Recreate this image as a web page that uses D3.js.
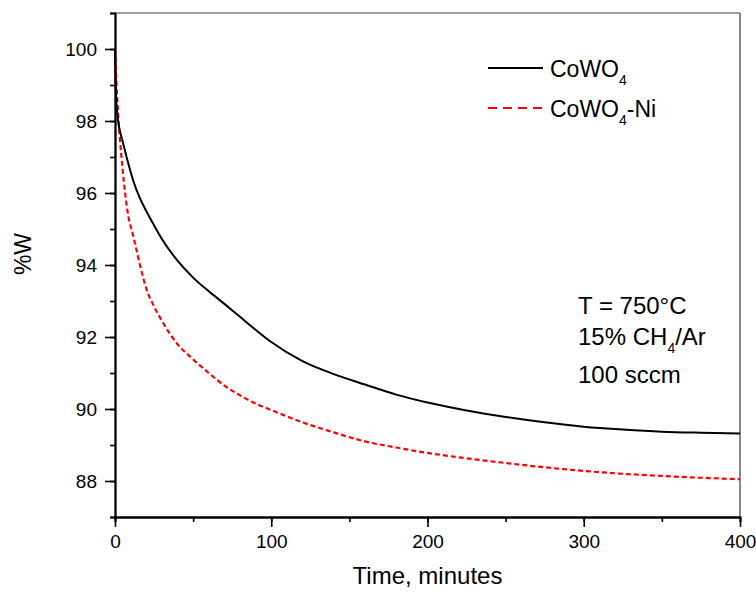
<!DOCTYPE html>
<html>
<head>
<meta charset="utf-8">
<script src="https://cdn.jsdelivr.net/npm/d3@7"></script>
<style>
    body { margin: 0; background: #fff; }
    text { font-family: Arial, "Liberation Sans", sans-serif; fill: #000; }
</style>
</head>
<body>
<div class="svg"></div>
<script>
// time, minutes
var times = [0, 0.5, 1, 2, 3, 5, 8, 12, 16, 20, 25, 30, 40, 50, 60, 70, 80, 90, 100,
    120, 140, 160, 180, 200, 225, 250, 275, 300, 325, 350, 375, 400];
var cowo4 = [100, 98.9, 98.45, 98.0, 97.75, 97.42, 96.9, 96.3, 95.85, 95.5, 95.1, 94.72, 94.12, 93.65, 93.27, 92.92, 92.56, 92.2, 91.86,
    91.33, 90.97, 90.68, 90.4, 90.18, 89.96, 89.78, 89.63, 89.51, 89.43, 89.37, 89.34, 89.32];
var cowo4Ni = [100, 99.5, 99.0, 98.2, 97.6, 96.6, 95.5, 94.75, 94.0, 93.35, 92.85, 92.45, 91.8, 91.38, 91.0, 90.65, 90.38, 90.15, 89.97,
    89.63, 89.35, 89.1, 88.93, 88.78, 88.63, 88.5, 88.38, 88.28, 88.2, 88.14, 88.09, 88.05];
var xTicks = [0, 100, 200, 300, 400];
var yTicks = [88, 90, 92, 94, 96, 98, 100];

var width = 756,
    height = 592;
var margin = {left: 115, right: 16, top: 13, bottom: 75};

var svg = d3.select(".svg").append("svg")
    .attr("width", width)
    .attr("height", height);

var x = d3.scaleLinear().domain([0, 400]).range([margin.left, width - margin.right]);
var y = d3.scaleLinear().domain([87, 101]).range([height - margin.bottom, margin.top]);

// frame (top and right in grey)
svg.append("line")
    .attr("x1", x(0)).attr("x2", x(400)).attr("y1", y(101)).attr("y2", y(101))
    .attr("stroke", "#808080").attr("stroke-width", 1.5);
svg.append("line")
    .attr("x1", x(400)).attr("x2", x(400)).attr("y1", y(101)).attr("y2", y(87))
    .attr("stroke", "#606060").attr("stroke-width", 1.5);

// minor ticks
var xMinor = d3.axisBottom(x).tickValues(d3.range(0, 401, 50)).tickSize(5).tickFormat("");
var yMinor = d3.axisLeft(y).tickValues(d3.range(87, 101.5, 1)).tickSize(5).tickFormat("");

var xAxis = d3.axisBottom(x).tickValues(xTicks).tickSize(10).tickPadding(8).tickSizeOuter(0);
var yAxis = d3.axisLeft(y).tickValues(yTicks).tickSize(10).tickPadding(8).tickSizeOuter(0);

[xMinor, xAxis].forEach(function (a) {
    svg.append("g")
        .attr("transform", "translate(0," + y(87) + ")")
        .call(a);
});
[yMinor, yAxis].forEach(function (a) {
    svg.append("g")
        .attr("transform", "translate(" + x(0) + ",0)")
        .call(a);
});

svg.selectAll(".domain").attr("stroke", "#000").attr("stroke-width", 1.8);
svg.selectAll(".tick line").attr("stroke", "#000").attr("stroke-width", 1.6);
svg.selectAll(".tick text")
    .style("font-family", "Arial, 'Liberation Sans', sans-serif")
    .style("font-size", "19px")
    .attr("fill", "#000");

// curves
var line = function (vals) {
    return d3.line()
        .x(function (d, i) { return x(times[i]); })
        .y(function (d) { return y(d); })
        .curve(d3.curveMonotoneX)(vals);
};

svg.append("path")
    .attr("d", line(cowo4Ni))
    .attr("fill", "none")
    .attr("stroke", "#ff0000")
    .attr("stroke-width", 2.2)
    .attr("stroke-dasharray", "5,3");

svg.append("path")
    .attr("d", line(cowo4))
    .attr("fill", "none")
    .attr("stroke", "#000")
    .attr("stroke-width", 2);

// axis titles
svg.append("text")
    .attr("x", x(200)).attr("y", 584)
    .attr("text-anchor", "middle")
    .style("font-size", "24px")
    .text("Time, minutes");

svg.append("text")
    .attr("transform", "translate(31,254) rotate(-90)")
    .attr("text-anchor", "middle")
    .style("font-size", "23px")
    .text("%W");

// legend
var legend = svg.append("g");
legend.append("line")
    .attr("x1", 488).attr("x2", 543).attr("y1", 68).attr("y2", 68)
    .attr("stroke", "#000").attr("stroke-width", 2);
legend.append("line")
    .attr("x1", 488).attr("x2", 543).attr("y1", 108).attr("y2", 108)
    .attr("stroke", "#ff0000").attr("stroke-width", 2).attr("stroke-dasharray", "9,6");

function chem(g, px, py, size, parts) {
    var t = g.append("text").attr("x", px).attr("y", py).style("font-size", size + "px");
    parts.forEach(function (p) {
        var s = t.append("tspan").text(p[0]);
        if (p[1]) s.style("font-size", Math.round(size * 0.6) + "px").attr("dy", 8);
        else if (p[2]) s.attr("dy", -8);
    });
}
chem(legend, 550, 77, 23, [["CoWO"], ["4", true]]);
chem(legend, 550, 117, 23, [["CoWO"], ["4", true], ["-Ni", false, true]]);

// conditions
var note = svg.append("g");
note.append("text").attr("x", 578).attr("y", 314).style("font-size", "24px").text("T = 750°C");
chem(note, 578, 345, 24, [["15% CH"], ["4", true], ["/Ar", false, true]]);
note.append("text").attr("x", 578).attr("y", 383).style("font-size", "24px").text("100 sccm");
</script>
</body>
</html>
